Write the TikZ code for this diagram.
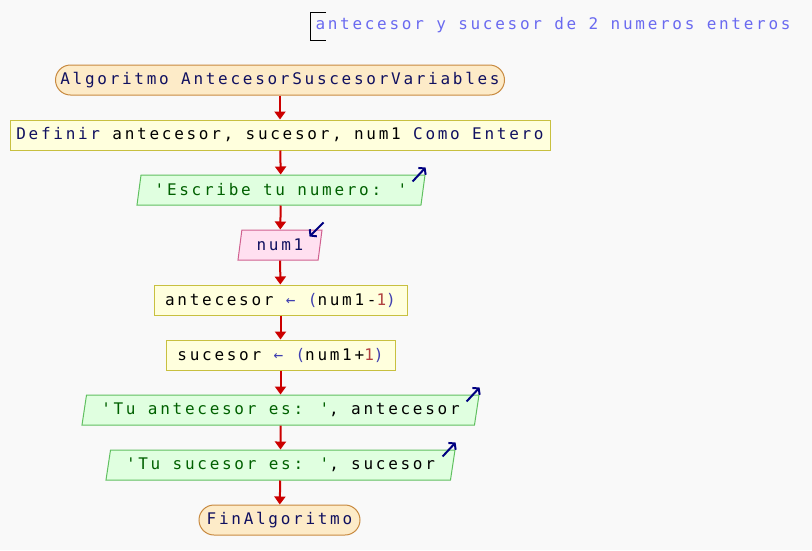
\documentclass[tikz,border=0pt]{standalone}
\usepackage{fontspec}
\newfontfamily\psfont[LetterSpace=17]{DejaVu Sans Mono}
\usetikzlibrary{shapes.geometric,arrows.meta,calc}
\definecolor{bgcol}{HTML}{F9F9F9}
\definecolor{termfill}{HTML}{FDEBC8}
\definecolor{termline}{HTML}{C88A40}
\definecolor{procfill}{HTML}{FFFFDD}
\definecolor{procline}{HTML}{C8C040}
\definecolor{outfill}{HTML}{E0FFE0}
\definecolor{outline}{HTML}{60C060}
\definecolor{infill}{HTML}{FFE0F0}
\definecolor{inline}{HTML}{D06090}
\definecolor{flowred}{HTML}{CC0000}
\definecolor{kw}{HTML}{101060}
\definecolor{strgreen}{HTML}{006000}
\definecolor{opblue}{HTML}{4040B0}
\definecolor{numred}{HTML}{B04040}
\definecolor{iconblue}{HTML}{000080}
\definecolor{cmtblue}{HTML}{6A6AF0}
\tikzset{
  base/.style={font=\psfont\fontsize{16}{16}\selectfont, minimum height=30pt, inner sep=0pt, line width=1pt},
  term/.style={base, draw=termline, fill=termfill, rounded corners=15pt},
  proc/.style={base, draw=procline, fill=procfill},
  io/.style={base, trapezium, trapezium left angle=72, trapezium right angle=108, trapezium stretches body},
  outbox/.style={io, draw=outline, fill=outfill},
  inbox/.style={io, draw=inline, fill=infill},
  flow/.style={draw=flowred, line width=2pt, -{Triangle[length=8pt,width=11pt]}},
  icon/.style={draw=iconblue, line width=2pt, -{Straight Barb[length=4pt,width=10pt]}}
}
\begin{document}
\begin{tikzpicture}[x=1pt,y=-1pt]
  \fill[bgcol] (0,0) rectangle (812,550);
  \useasboundingbox (0,0) rectangle (812,550);
  % comment
  \node[base, anchor=west, minimum height=0pt, text=cmtblue] (cmt) at (315,25) {antecesor y sucesor de 2 numeros enteros};
  \draw[line width=1pt] (326,12) -| (310,40) -- (326,40);
  % flow steps
  \node[term, minimum width=449pt] (start) at (280,80) {{\color{kw}Algoritmo AntecesorSuscesorVariables}};
  \node[proc, minimum width=540pt] (def) at (280,135) {{\color{kw}Definir} antecesor, sucesor, num1 {\color{kw}Como Entero}};
  \node[outbox, minimum width=288pt] (out1) at (281,190) {{\color{strgreen}'Escribe tu numero: '}};
  \node[inbox, minimum width=84pt] (in1) at (280,245) {{\color{kw}num1}};
  \node[proc, minimum width=253pt] (ante) at (280.5,300) {antecesor {\color{opblue}← (}num1-{\color{numred}1}{\color{opblue})}};
  \node[proc, minimum width=229pt] (suce) at (280.5,355) {sucesor {\color{opblue}← (}num1+{\color{numred}1}{\color{opblue})}};
  \node[outbox, minimum width=397pt] (out2) at (280.5,410) {{\color{strgreen}'Tu antecesor es: '}, antecesor};
  \node[outbox, minimum width=349pt] (out3) at (280.5,465) {{\color{strgreen}'Tu sucesor es: '}, sucesor};
  \node[term, minimum width=161pt] (fin) at (279.5,520) {{\color{kw}FinAlgoritmo}};
  % connectors
  \draw[flow] (start) -- (def);
  \draw[flow] (def) -- (out1);
  \draw[flow] (out1) -- (in1);
  \draw[flow] (in1) -- (ante);
  \draw[flow] (ante) -- (suce);
  \draw[flow] (suce) -- (out2);
  \draw[flow] (out2) -- (out3);
  \draw[flow] (out3) -- (fin);
  % in/out icons
  \foreach \n in {out1,out2,out3}
    \draw[icon] ($(\n.top right corner)+(-13,7)$) -- ($(\n.top right corner)+(0,-7)$);
  \draw[icon] ($(in1.top right corner)+(1,-7)$) -- ($(in1.top right corner)+(-13,7)$);
\end{tikzpicture}
\end{document}
